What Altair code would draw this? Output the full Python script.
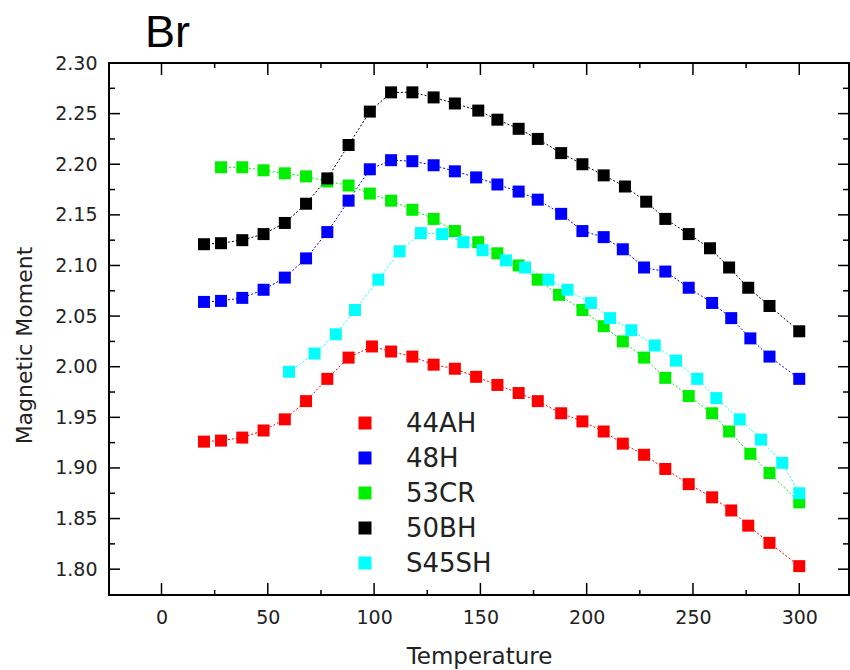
import altair as alt
import pandas as pd

# Samples in legend / drawing order, with their marker colours
series_names = ["44AH", "48H", "53CR", "50BH", "S45SH"]
series_colors = ["#ff0000", "#0000ff", "#00ee00", "#000000", "#00ffff"]

temp_44ah = [20, 28, 38, 48, 58, 68, 78, 88, 99, 108, 118, 128, 138, 148, 158,
             168, 177, 188, 198, 208, 217, 227, 237, 248, 259, 268, 276, 286, 300]
moment_44ah = [1.926, 1.927, 1.930, 1.937, 1.948, 1.966, 1.988, 2.009, 2.020, 2.015,
               2.010, 2.002, 1.998, 1.990, 1.982, 1.974, 1.966, 1.954, 1.946, 1.936,
               1.924, 1.913, 1.899, 1.884, 1.871, 1.858, 1.843, 1.826, 1.803]

temp_48h = [20, 28, 38, 48, 58, 68, 78, 88, 98, 108, 118, 128, 138, 148, 158,
            168, 177, 188, 198, 208, 217, 227, 237, 248, 259, 268, 277, 286, 300]
moment_48h = [2.064, 2.065, 2.068, 2.076, 2.088, 2.107, 2.133, 2.164, 2.195, 2.204,
              2.203, 2.199, 2.193, 2.187, 2.180, 2.173, 2.165, 2.151, 2.134, 2.128,
              2.116, 2.098, 2.094, 2.078, 2.063, 2.048, 2.028, 2.010, 1.988]

temp_53cr = [28, 38, 48, 58, 68, 78, 88, 98, 108, 118, 128, 138, 149, 158,
             168, 177, 187, 198, 208, 217, 227, 237, 248, 259, 267, 277, 286, 300]
moment_53cr = [2.197, 2.197, 2.194, 2.191, 2.188, 2.183, 2.179, 2.171, 2.164, 2.155,
               2.146, 2.134, 2.123, 2.112, 2.100, 2.086, 2.071, 2.056, 2.040, 2.025,
               2.009, 1.989, 1.971, 1.954, 1.936, 1.914, 1.895, 1.866]

temp_50bh = [20, 28, 38, 48, 58, 68, 78, 88, 98, 108, 118, 128, 138, 149, 158,
             168, 177, 188, 198, 208, 218, 228, 237, 248, 258, 267, 276, 286, 300]
moment_50bh = [2.121, 2.122, 2.125, 2.131, 2.142, 2.161, 2.186, 2.219, 2.252, 2.271,
               2.271, 2.266, 2.260, 2.253, 2.244, 2.235, 2.225, 2.211, 2.200, 2.189,
               2.178, 2.163, 2.146, 2.131, 2.117, 2.098, 2.078, 2.060, 2.035]

temp_s45sh = [60, 72, 82, 91, 102, 112, 122, 132, 142, 151, 162, 171, 182, 191,
              202, 211, 221, 232, 242, 252, 261, 272, 282, 292, 300]
moment_s45sh = [1.995, 2.013, 2.032, 2.056, 2.086, 2.114, 2.132, 2.131, 2.123, 2.115,
                2.105, 2.098, 2.086, 2.076, 2.063, 2.048, 2.036, 2.021, 2.006, 1.988,
                1.969, 1.948, 1.928, 1.905, 1.875]

# Axis tick values (labelled majors and unlabelled minors)
x_major = [0, 50, 100, 150, 200, 250, 300]
x_minor = [25, 75, 125, 175, 225, 275]
y_major = [1.80, 1.85, 1.90, 1.95, 2.00, 2.05, 2.10, 2.15, 2.20, 2.25, 2.30]
y_minor = [1.825, 1.875, 1.925, 1.975, 2.025, 2.075, 2.125, 2.175, 2.225, 2.275]

panel_title = "Br"

temps = [temp_44ah, temp_48h, temp_53cr, temp_50bh, temp_s45sh]
moments = [moment_44ah, moment_48h, moment_53cr, moment_50bh, moment_s45sh]
rows = []
for name, ts, ms in zip(series_names, temps, moments):
    for t, m in zip(ts, ms):
        rows.append({"sample": name, "temperature": t, "moment": m})
df = pd.DataFrame(rows)
legend_df = pd.DataFrame({"sample": series_names})

W, H = 740, 532
LABEL_FONT = "DejaVu Sans"
TEXT_COLOR = "#222222"

x_scale = alt.Scale(domain=[-24.7, 323.4], nice=False, zero=False)
y_scale = alt.Scale(domain=[1.7745, 2.30], nice=False, zero=False)
color_scale = alt.Scale(domain=series_names, range=series_colors)

x_axis = alt.Axis(
    title="Temperature", values=x_major, format="d", ticks=False, domain=False,
    grid=False, labelFlush=False, labelFont=LABEL_FONT, labelFontSize=19,
    labelColor=TEXT_COLOR, labelPadding=13, titleFont=LABEL_FONT,
    titleFontSize=23, titleFontWeight="normal", titleColor=TEXT_COLOR,
    titleY=68, titleBaseline="alphabetic",
)
y_axis = alt.Axis(
    title="Magnetic Moment", values=y_major, format=".2f", ticks=False,
    domain=False, grid=False, labelFlush=False, labelFont=LABEL_FONT,
    labelFontSize=19, labelColor=TEXT_COLOR, labelPadding=12,
    titleFont=LABEL_FONT, titleFontSize=22, titleFontWeight="normal",
    titleColor=TEXT_COLOR, titleX=-78, titleY=282, titleAngle=270,
    titleBaseline="alphabetic",
)

X = alt.X("temperature:Q", scale=x_scale, axis=x_axis)
Y = alt.Y("moment:Q", scale=y_scale, axis=y_axis)
COLOR = alt.Color("sample:N", scale=color_scale, legend=None)

# dotted connecting lines
lines = alt.Chart(df).mark_line(strokeWidth=1, strokeDash=[2, 2]).encode(
    x=X, y=Y, color=COLOR)

# square markers
points = alt.Chart(df).mark_square(size=144, opacity=1, strokeWidth=0).encode(
    x=X, y=Y, color=COLOR)


def x_ticks(values, length):
    c = alt.Chart(pd.DataFrame({"t": values})).encode(
        x=alt.X("t:Q", scale=x_scale, axis=x_axis))
    bottom = c.mark_rule(color="black", strokeWidth=1.5).encode(
        y=alt.value(H), y2=alt.value(H - length))
    top = c.mark_rule(color="black", strokeWidth=1.5).encode(
        y=alt.value(0), y2=alt.value(length))
    return [bottom, top]


def y_ticks(values, length):
    c = alt.Chart(pd.DataFrame({"t": values})).encode(
        y=alt.Y("t:Q", scale=y_scale, axis=y_axis))
    left = c.mark_rule(color="black", strokeWidth=1.5).encode(
        x=alt.value(0), x2=alt.value(length))
    right = c.mark_rule(color="black", strokeWidth=1.5).encode(
        x=alt.value(W), x2=alt.value(W - length))
    return [left, right]


tick_layers = (x_ticks(x_major, 12) + x_ticks(x_minor, 5)
               + y_ticks(y_major, 11) + y_ticks(y_minor, 6))

plot = alt.layer(lines, points, *tick_layers)

# in-plot legend: one row per sample on its own point scale
legend_y = alt.Y("sample:N", axis=None,
                 scale=alt.Scale(type="point", domain=series_names,
                                 range=[360, 500], padding=0))
legend_base = alt.Chart(legend_df).encode(y=legend_y)
legend_symbols = legend_base.mark_square(size=169, opacity=1, strokeWidth=0).encode(
    x=alt.value(256), color=COLOR)
legend_labels = legend_base.mark_text(
    align="left", baseline="middle", font=LABEL_FONT, fontSize=26,
    color=TEXT_COLOR, dy=1,
).encode(x=alt.value(297), text="sample:N")

# panel label above the frame
title_text = alt.Chart(pd.DataFrame({"label": [panel_title]})).mark_text(
    align="left", baseline="alphabetic", font="Liberation Sans", fontSize=45,
    color="black",
).encode(x=alt.value(36), y=alt.value(-16), text="label:N")

chart = alt.layer(plot, legend_symbols, legend_labels, title_text).resolve_scale(
    y="independent"
).properties(
    width=W,
    height=H,
    autosize=alt.AutoSizeParams(type="none"),
    padding={"left": 109, "top": 63, "right": 1, "bottom": 75},
    background="white",
).configure_view(stroke="black", strokeWidth=2)

chart.save("out.html", embed_options={"renderer": "svg", "actions": False})
